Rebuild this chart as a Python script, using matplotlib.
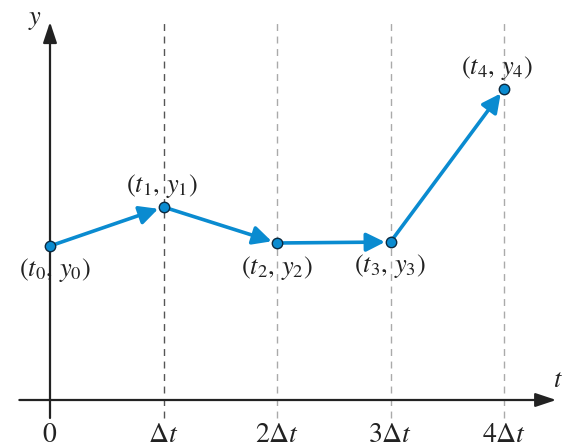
import matplotlib
matplotlib.use("Agg")
import matplotlib.pyplot as plt

plt.rcParams['mathtext.fontset'] = 'stix'
plt.rcParams['font.family'] = ['STIXGeneral', 'DejaVu Serif']

t_vals = [0, 1, 2, 3, 4]
y_vals = [1.54, 1.93, 1.57, 1.58, 3.11]
point_labels = [r'$(t_0,\, y_0)$', r'$(t_1,\, y_1)$', r'$(t_2,\, y_2)$', r'$(t_3,\, y_3)$', r'$(t_4,\, y_4)$']
tick_labels = [r'$0$', r'$\Delta t$', r'$2\Delta t$', r'$3\Delta t$', r'$4\Delta t$']
label_offsets = [(5, -24), (-2, 21), (0, -25), (-1, -24), (-7, 21)]

blue = '#0a8bd0'
dark = '#222222'

fig = plt.figure(figsize=(5.63, 4.47), dpi=100)
ax = fig.add_axes([0, 0, 1, 1])
ax.set_xlim(-50 / 113.5, (563 - 50) / 113.5)
ax.set_ylim(-0.47, 4.0)
ax.axis('off')

# dashed grid lines
for i, t in enumerate(t_vals[1:]):
    col = '#555555' if i == 0 else '#aaaaaa'
    ax.plot([t, t], [-0.18, 3.78], color=col, lw=1.0, ls=(0, (5, 4)), zorder=1)

# axes with arrows
ax.annotate('', xy=(4.46, 0), xytext=(-0.27, 0),
            arrowprops=dict(arrowstyle='-|>,head_length=0.9,head_width=0.3',
                            mutation_scale=14, lw=1.6, color=dark, shrinkA=0, shrinkB=0), zorder=2)
ax.annotate('', xy=(0, 3.78), xytext=(0, -0.18),
            arrowprops=dict(arrowstyle='-|>,head_length=0.9,head_width=0.3',
                            mutation_scale=14, lw=1.6, color=dark, shrinkA=0, shrinkB=0), zorder=2)
ax.text(4.515, 0.19, r'$t$', fontsize=19, ha='right', va='center', color=dark)
ax.text(-0.13, 3.80, r'$y$', fontsize=19, ha='center', va='center', color=dark)

# tick labels
for t, lab in zip(t_vals, tick_labels):
    ax.text(t, -0.35, lab, fontsize=20, ha='center', va='center', color=dark)

# segments with arrows
for i in range(len(t_vals) - 1):
    ax.annotate('', xy=(t_vals[i + 1], y_vals[i + 1]), xytext=(t_vals[i], y_vals[i]),
                arrowprops=dict(arrowstyle='-|>,head_length=0.8,head_width=0.4',
                                mutation_scale=14, lw=2.6, color=blue,
                                shrinkA=0, shrinkB=4), zorder=3)

ax.plot(t_vals, y_vals, 'o', ms=7.5, mfc=blue, mec='#0b2a40', mew=1.0, ls='none', zorder=4)

for t, y, lab, off in zip(t_vals, y_vals, point_labels, label_offsets):
    ax.annotate(lab, xy=(t, y), xytext=off, textcoords='offset pixels',
                fontsize=19, ha='center', va='center', color=dark, zorder=5)

fig.savefig('out.png', dpi=100)
